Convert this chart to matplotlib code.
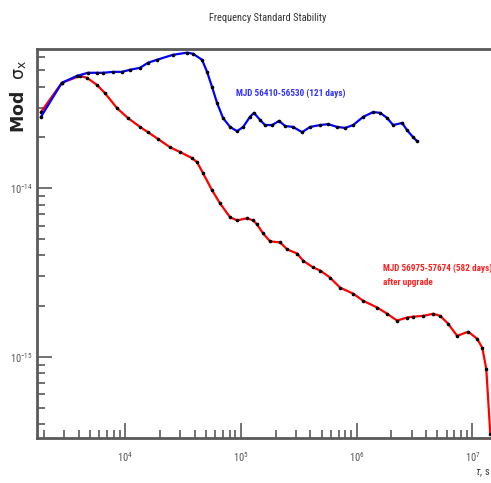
import matplotlib
matplotlib.use("Agg")
import matplotlib.pyplot as plt
import matplotlib.font_manager as fm
from matplotlib.ticker import LogLocator, NullFormatter, FixedLocator

# pick a narrow face if one is installed (the original uses a condensed Helvetica)
ttf = fm.fontManager.ttflist
names = {f.name for f in ttf}
narrow = None
for cand in ['Liberation Sans Narrow', 'Roboto Condensed', 'Open Sans Condensed',
             'Noto Sans Condensed', 'Arial Narrow']:
    if cand in names:
        narrow = dict(family=cand)
        break
if narrow is None:
    for f in ttf:
        if f.stretch in ('condensed', 'semi-condensed', 600, 625, 700, 750) and f.name in ('DejaVu Sans', 'Noto Sans', 'Open Sans', 'Roboto'):
            narrow = dict(family=f.name, stretch='condensed')
            break
if narrow is None:
    narrow = dict(family='Liberation Sans')

if 'stretch' not in narrow:
    plt.rcParams['mathtext.fontset'] = 'custom'
    plt.rcParams['mathtext.rm'] = narrow['family']
    plt.rcParams['mathtext.it'] = narrow['family'] + ':italic'
    plt.rcParams['mathtext.sf'] = 'DejaVu Sans'

# tau (s) and Mod sigma_x
tau_before = [1880, 2850, 3850, 4790, 5730, 6460, 7870, 9420, 1.10e4, 1.35e4,
              1.58e4, 1.89e4, 2.60e4, 3.44e4, 3.87e4, 4.63e4, 5.12e4, 5.65e4,
              6.24e4, 7.03e4, 8.09e4, 9.29e4, 1.05e5, 1.20e5, 1.30e5, 1.47e5,
              1.62e5, 1.87e5, 2.14e5, 2.42e5, 2.83e5, 3.39e5, 3.97e5, 4.85e5,
              5.69e5, 6.80e5, 7.97e5, 9.35e5, 1.14e6, 1.39e6, 1.60e6, 1.84e6,
              2.07e6, 2.48e6, 2.73e6, 3.08e6, 3.34e6]
sig_before = [2.65e-14, 4.22e-14, 4.64e-14, 4.84e-14, 4.84e-14, 4.84e-14, 4.90e-14,
              4.90e-14, 5.04e-14, 5.18e-14, 5.55e-14, 5.78e-14, 6.19e-14, 6.37e-14,
              6.28e-14, 5.78e-14, 4.90e-14, 3.99e-14, 3.21e-14, 2.61e-14, 2.31e-14,
              2.18e-14, 2.31e-14, 2.65e-14, 2.80e-14, 2.54e-14, 2.37e-14, 2.37e-14,
              2.51e-14, 2.34e-14, 2.31e-14, 2.15e-14, 2.31e-14, 2.37e-14, 2.40e-14,
              2.31e-14, 2.28e-14, 2.37e-14, 2.65e-14, 2.83e-14, 2.80e-14, 2.61e-14,
              2.37e-14, 2.44e-14, 2.21e-14, 2.01e-14, 1.90e-14]

tau_after = [1880, 2850, 4080, 4700, 5730, 6710, 8530, 1.06e4, 1.35e4, 1.58e4,
             1.93e4, 2.45e4, 2.99e4, 3.79e4, 4.19e4, 4.72e4, 5.65e4, 6.62e4,
             8.09e4, 9.29e4, 1.13e5, 1.28e5, 1.38e5, 1.56e5, 1.79e5, 2.19e5,
             2.51e5, 3.07e5, 3.45e5, 4.22e5, 4.85e5, 5.91e5, 7.22e5, 9.35e5,
             1.14e6, 1.51e6, 1.84e6, 2.24e6, 2.73e6, 3.08e6, 3.77e6, 4.59e6,
             5.28e6, 6.19e6, 7.40e6, 9.22e6, 1.10e7, 1.22e7, 1.32e7, 1.43e7]
sig_after = [2.83e-14, 4.22e-14, 4.64e-14, 4.52e-14, 4.10e-14, 3.67e-14, 2.99e-14,
             2.61e-14, 2.31e-14, 2.15e-14, 1.96e-14, 1.75e-14, 1.64e-14, 1.51e-14,
             1.43e-14, 1.23e-14, 9.73e-15, 8.14e-15, 6.72e-15, 6.45e-15, 6.63e-15,
             6.45e-15, 6.11e-15, 5.40e-15, 4.84e-15, 4.77e-15, 4.34e-15, 4.10e-15,
             3.72e-15, 3.39e-15, 3.25e-15, 2.95e-15, 2.57e-15, 2.37e-15, 2.15e-15,
             1.96e-15, 1.80e-15, 1.64e-15, 1.71e-15, 1.73e-15, 1.75e-15, 1.80e-15,
             1.75e-15, 1.57e-15, 1.33e-15, 1.41e-15, 1.28e-15, 1.13e-15, 8.49e-16,
             3.48e-16]

label_before = "MJD 56410-56530 (121 days)"
label_after = "MJD 56975-57674 (582 days)\nafter upgrade"

fig = plt.figure(figsize=(4.91, 4.83), dpi=100)
ax = fig.add_axes([0.0754, 0.0932, 0.9246, 0.8054])

ax.plot(tau_after, sig_after, color='#ff0000', lw=1.6, marker='o', ms=1.6,
        mfc='black', mec='black', zorder=3)
ax.plot(tau_before, sig_before, color='#0000ff', lw=1.6, marker='o', ms=1.6,
        mfc='black', mec='black', zorder=4)

ax.set_xscale('log')
ax.set_yscale('log')
ax.set_xlim(1740, 1.45e7)
ax.set_ylim(3.3e-16, 6.7e-14)

ax.text(9.1e4, 3.67e-14, label_before, color='#3030ff', fontsize=6.6,
        fontweight='bold', va='center', ha='left', **narrow)
ax.text(1.7e6, 3.05e-15, label_after, color='#ff2020', fontsize=6.6,
        fontweight='bold', va='center', ha='left', linespacing=1.7, **narrow)

gray = '#5a5a5a'
for side in ['left', 'bottom', 'top']:
    ax.spines[side].set_color(gray)
    ax.spines[side].set_linewidth(2)
ax.spines['right'].set_visible(False)

ax.xaxis.set_major_locator(FixedLocator([1e4, 1e5, 1e6, 1e7]))
ax.xaxis.set_minor_locator(LogLocator(base=10, subs=range(2, 10), numticks=20))
ax.yaxis.set_major_locator(FixedLocator([1e-15, 1e-14]))
ax.yaxis.set_minor_locator(LogLocator(base=10, subs=range(2, 10), numticks=20))
ax.xaxis.set_minor_formatter(NullFormatter())
ax.yaxis.set_minor_formatter(NullFormatter())
ax.set_xticklabels([r'$10^{4}$', r'$10^{5}$', r'$10^{6}$', r'$10^{7}$'])
ax.set_yticklabels([r'$10^{-15}$', r'$10^{-14}$'])

ax.tick_params(which='both', direction='in', color=gray, labelcolor='#555555',
               labelsize=7.5, top=False, right=False)
ax.tick_params(which='major', length=11, width=1.2)
ax.tick_params(axis='x', which='major', pad=9)
ax.tick_params(axis='y', which='major', pad=3)
ax.tick_params(which='minor', length=5.5, width=1.2)

fig.text(0.546, 0.963, "Frequency Standard Stability", ha='center', va='center',
         fontsize=7.5, color='#333333', **narrow)
fig.text(0.038, 0.80, r'Mod  $\mathsf{\sigma}_{\mathsf{x}}$', rotation=90,
         ha='center', va='center', fontsize=12.5, fontweight='bold',
         color='#222222', family='DejaVu Sans')
fig.text(0.999, 0.021, r'$\tau$, s', ha='right', va='center', fontsize=7.5,
         color='#333333', **narrow)

fig.savefig('out.png', dpi=100)
